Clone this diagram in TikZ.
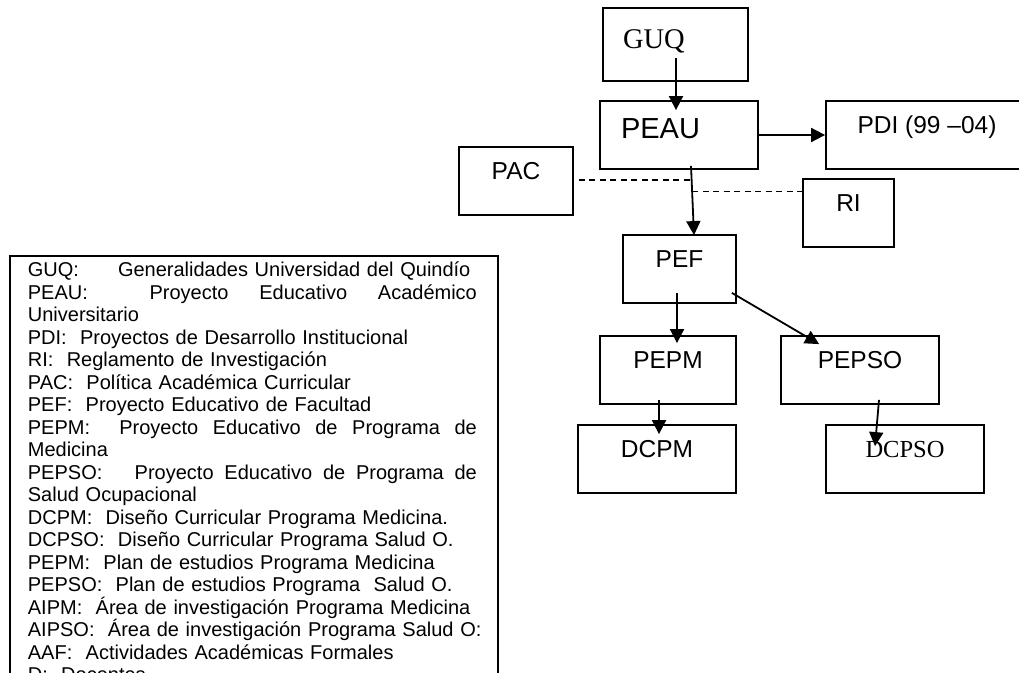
\documentclass[tikz,border=0pt]{standalone}
\usepackage{fontspec}
\setmainfont{Liberation Sans}
\newfontfamily\romana{Liberation Serif}
\usetikzlibrary{arrows.meta}

\begin{document}
\begin{tikzpicture}[x=1pt, y=-1pt,
    caja/.style={draw, line width=1.8pt, inner sep=0pt, minimum height=68pt,
      text height=17.5pt, text depth=20.5pt, font=\fontsize{24.5}{24.5}\selectfont},
    flecha/.style={line width=1.8pt, -{Triangle[width=14pt,length=14pt]}},
    punteada/.style={line width=1.6pt, dash pattern=on 6pt off 4.5pt},
    leyenda/.style={draw, line width=1.8pt, anchor=north west, inner xsep=18pt,
      inner ysep=5pt, text width=452pt, font=\fontsize{20}{22.5}\selectfont}]
  \clip (0,0) rectangle (1019,672);

  \node[caja, minimum width=145pt, minimum height=73pt, text height=18.5pt, text depth=10.5pt,
    text width=105pt, inner xsep=20pt, align=left, font=\romana\fontsize{28.5}{28.5}\selectfont]
    (guq) at (675.5,44.5) {GUQ};
  \node[caja, minimum width=158pt, text height=21pt, text depth=15pt, text width=116pt,
    inner xsep=21pt, align=left, font=\fontsize{29}{29}\selectfont] (peau) at (679,135) {PEAU};
  \node[caja, minimum width=202pt] (pdi) at (927,135) {PDI (99 –04)};
  \node[caja, minimum width=114pt] (pac) at (516,181) {PAC};
  \node[caja, minimum width=91pt] (ri) at (848.5,213) {RI};
  \node[caja, minimum width=113pt] (pef) at (679.5,269) {PEF};
  \node[caja, minimum width=136pt] (pepm) at (668,370) {PEPM};
  \node[caja, minimum width=158pt] (pepso) at (860,370) {PEPSO};
  \node[caja, minimum width=158pt] (dcpm) at (657,459) {DCPM};
  \node[caja, minimum width=158pt, text height=16pt, text depth=20pt,
    font=\romana\fontsize{24.5}{24.5}\selectfont] (dcpso) at (905,459) {DCPSO};

  \draw[flecha] ([xshift=0.5pt,yshift=24pt]guq.south) -- ([xshift=-3pt,yshift=-10pt]peau.north);
  \draw[flecha] (peau.east) -- (pdi.west);
  \draw[flecha] ([xshift=12pt,yshift=4pt]peau.south)
    -- coordinate[pos=0.2] (pacx) coordinate[pos=0.37] (rix) ([xshift=14.5pt,yshift=-1pt]pef.north);
  \draw[flecha] ([xshift=-2.5pt,yshift=11pt]pef.south) -- ([xshift=9pt,yshift=-8pt]pepm.north);
  \draw[flecha] ([xshift=-5pt,yshift=11pt]pef.south east) -- ([xshift=39pt,yshift=-9pt]pepso.north west);
  \draw[flecha] ([xshift=-9pt,yshift=5pt]pepm.south) -- ([xshift=2pt,yshift=-10pt]dcpm.north);
  \draw[flecha] ([xshift=19pt,yshift=5pt]pepso.south) -- ([xshift=-30pt,yshift=-22pt]dcpso.north);

  \draw[punteada, shorten <=5pt] (pac.east |- pacx) -- (pacx);
  \draw[punteada] (rix) -- (ri.west |- rix);

  \node[leyenda] (ley) at (9,255) {\noindent\rule{0pt}{16pt}GUQ:\hspace{39pt}Generalidades Universidad del Quindío\\
    \makebox[449pt][s]{PEAU:\hfill\hfill Proyecto\hfill Educativo\hfill Académico}\\
    Universitario\\
    PDI:\ \ Proyectos de Desarrollo Institucional\\
    RI:\ \ Reglamento de Investigación\\
    PAC:\ \ Política Académica Curricular\\
    PEF:\ \ Proyecto Educativo de Facultad\\
    \makebox[449pt][s]{PEPM:\hfill\hfill Proyecto\hfill Educativo\hfill de\hfill Programa\hfill de}\\
    Medicina\\
    \makebox[449pt][s]{PEPSO:\hfill\hfill\hfill Proyecto\hfill Educativo\hfill de\hfill Programa\hfill de}\\
    Salud Ocupacional\\
    DCPM:\ \ Diseño Curricular Programa Medicina.\\
    DCPSO:\ \ Diseño Curricular Programa Salud O.\\
    PEPM:\ \ Plan de estudios Programa Medicina\\
    PEPSO:\ \ Plan de estudios Programa\ \ Salud O.\\
    \mbox{AIPM:\ \ Área de investigación Programa Medicina}\\
    \mbox{AIPSO:\ \ Área de investigación Programa Salud O:}\\
    AAF:\ \ Actividades Académicas Formales\\
    D:\ \ Docentes};
\end{tikzpicture}
\end{document}
